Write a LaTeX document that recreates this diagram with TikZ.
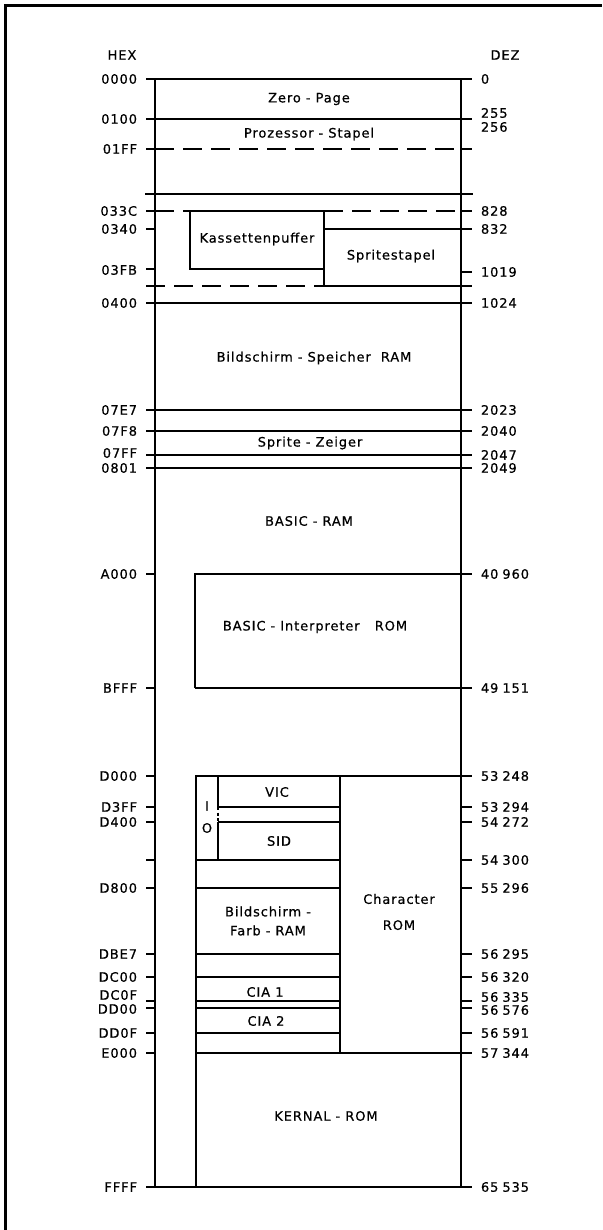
\documentclass[tikz,border=0pt]{standalone}
\usepackage{fontspec}
\setmainfont{DejaVu Sans}[LetterSpace=7,FakeBold=0.6]
\newcommand\gp{\hspace{4pt}}
\begin{document}
\begin{tikzpicture}[x=1pt,y=-1pt,line width=1.9pt,
  every node/.style={inner sep=0pt,font=\fontsize{13}{15}\selectfont},
  hexlbl/.style={anchor=east},
  declbl/.style={anchor=west},
  dl/.style={dash pattern=on 19pt off 9pt},
  txt/.style={anchor=center}]
\useasboundingbox (0,0) rectangle (602,1230);
% frame (top and left only visible)
\draw[line width=2.4pt] (5.5,1230) -- (5.5,5.5) -- (602,5.5);
% headings
\node[txt] (hex) at (122,55) {HEX};
\node[txt] (dez) at (505,55) {DEZ};
% column sides
\draw (155,79) -- (155,1187);
\draw (461,79) -- (461,1187);
% full-width lines
\foreach \y in {79,119,303,410,431,455,468,1187} \draw (146,\y) -- (472,\y);
\draw (145,194) -- (473,194);
% left ticks
\foreach \y in {149,211,229,269,574,688,776,807,822,860,888,954,977,1001,1008,1033,1053}
  \draw (146,\y) -- (155,\y);
% right ticks
\foreach \y in {149,211,272,688,807,822,860,888,954,977,1001,1008,1033}
  \draw (461,\y) -- (472,\y);
% stack end (dashed)
\draw[dl] (155,149) -- (461,149);
% cassette buffer / sprite stack
\draw[dl] (155,211) -- (190,211);
\draw[dl] (324,211) -- (461,211);
\draw (190,211) -- (324,211);
\draw (324,229) -- (472,229);
\draw (190,211) -- (190,269) -- (324,269);
\draw (324,211) -- (324,286);
\draw[dl] (146,286) -- (324,286);
\draw (324,286) -- (472,286);
% BASIC interpreter ROM
\draw (195,688) -- (195,574) -- (472,574);
\draw (195,688) -- (461,688);
% I/O area
\draw (196,1187) -- (196,776) -- (472,776);
\draw (340,776) -- (340,1053);
\draw (196,1053) -- (472,1053);
\foreach \y in {860,888,954,977,1001,1008,1033} \draw (196,\y) -- (340,\y);
\draw (218,807) -- (340,807);
\draw (218,822) -- (340,822);
\draw (218,776) -- (218,807);
\draw[line width=1.2pt,dash pattern=on 3pt off 2.5pt] (218,807) -- (218,822);
\draw (218,822) -- (218,860);
% region texts
\node[txt] (zp) at (309,99) {Zero - Page};
\node[txt] (ps) at (309,134) {Prozessor - Stapel};
\node[txt] (kp) at (257,239) {Kassettenpuffer};
\node[txt] (ss) at (391,256) {Spritestapel};
\node[txt] (bs) at (314,358) {Bildschirm - Speicher\ \ RAM};
\node[txt] (sz) at (310,443) {Sprite - Zeiger};
\node[txt] (br) at (309,521) {BASIC - RAM};
\node[txt] (bi) at (315,627) {BASIC - Interpreter\ \ \ ROM};
\node[txt] (vic) at (277,792) {VIC};
\node[txt] (ioI) at (207,806) {I};
\node[txt] (ioO) at (207,828) {O};
\node[txt] (sid) at (279,841) {SID};
\node[txt,align=center,font=\fontsize{13}{19}\selectfont] (fr) at (268,921) {Bildschirm -\\Farb - RAM};
\node[txt,align=center,font=\fontsize{13}{26}\selectfont] (cr) at (399,912) {Character\\ROM};
\node[txt] (c1) at (265,992) {CIA 1};
\node[txt] (c2) at (266,1021) {CIA 2};
\node[txt] (kr) at (326,1116) {KERNAL - ROM};
% hex labels
\foreach \lab/\y [count=\i] in {0000/79,0100/119,01FF/149,033C/211,0340/229,03FB/270,0400/303,
  07E7/410,07F8/431,07FF/453,0801/468,A000/574,BFFF/688,D000/776,D3FF/807,D400/822,
  D800/888,DBE7/954,DC00/977,DC0F/995,DD00/1009,DD0F/1033,E000/1053,FFFF/1187}
  \node[hexlbl] (h\i) at (138,\y) {\lab};
% decimal labels
\foreach \lab/\y [count=\i] in {0/79,255/113,256/127,828/211,832/229,1019/272,1024/303,
  2023/410,2040/431,2047/455,2049/468,40\gp960/574,49\gp151/688,53\gp248/776,
  53\gp294/807,54\gp272/822,54\gp300/860,55\gp296/888,56\gp295/954,56\gp320/977,
  56\gp335/997,56\gp576/1010,56\gp591/1033,57\gp344/1053,65\gp535/1187}
  \node[declbl] (d\i) at (480,\y) {\lab};
\end{tikzpicture}
\end{document}
